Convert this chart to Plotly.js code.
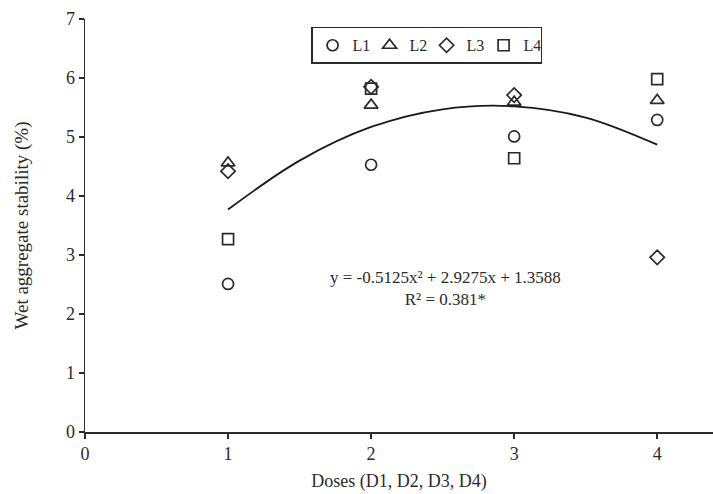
<!DOCTYPE html>
<html>
<head>
<meta charset="utf-8">
<script src="https://cdn.plot.ly/plotly-3.0.1.min.js"></script>
<style>html,body{margin:0;padding:0;background:#fff;}#chart{width:713px;height:494px;}</style>
</head>
<body>
<div id="chart"></div>
<script>
const doses = [1, 2, 3, 4];
const L1 = [2.51, 4.53, 5.01, 5.29];
const L2 = [4.56, 5.54, 5.59, 5.62];
const L3 = [4.42, 5.85, 5.71, 2.96];
const L4 = [3.27, 5.82, 4.64, 5.98];
const trendX = [1, 1.5, 2, 2.5, 3, 3.5, 4];
const trendY = [3.77, 4.60, 5.17, 5.47, 5.52, 5.33, 4.87];
const seriesNames = ['L1', 'L2', 'L3', 'L4'];
const symbols = ['circle-open', 'triangle-up-open', 'diamond-open', 'square-open'];
const equationText = 'y = -0.5125x² + 2.9275x + 1.3588';
const r2Text = 'R² = 0.381*';

const ink = '#2b2b2b';
const font = 'Liberation Serif, Times New Roman, serif';
const series = [L1, L2, L3, L4];
const sizes = [11, 12, 11, 11];
const traces = series.map((v, i) => ({
  x: doses, y: v, name: seriesNames[i], type: 'scatter', mode: 'markers',
  marker: {symbol: symbols[i], size: sizes[i], color: ink, line: {width: 1.7, color: ink}},
  cliponaxis: false
}));
traces.push({
  x: trendX, y: trendY, type: 'scatter', mode: 'lines', showlegend: false,
  line: {shape: 'spline', color: '#1a1a1a', width: 1.8}, hoverinfo: 'skip'
});

const layout = {
  width: 713, height: 494,
  margin: {l: 85, r: 0, t: 19, b: 62},
  paper_bgcolor: '#fff', plot_bgcolor: '#fff',
  font: {family: font, size: 18, color: ink},
  showlegend: true,
  legend: {
    orientation: 'h', x: 0.36, y: 0.981, xanchor: 'left', yanchor: 'top',
    bordercolor: ink, borderwidth: 1.5, bgcolor: '#fff',
    font: {family: font, size: 16, color: ink},
    itemwidth: 30, entrywidth: 12, tracegroupgap: 0
  },
  xaxis: {
    range: [0, 4.39], tickvals: [0, 1, 2, 3, 4], ticks: 'outside', ticklen: 5, tickwidth: 1.5,
    tickcolor: ink, showline: true, linecolor: ink, linewidth: 1.5, showgrid: false, zeroline: false,
    title: {text: 'Doses (D1, D2, D3, D4)', font: {family: font, size: 18, color: ink}, standoff: 11},
    tickfont: {family: font, size: 18, color: ink}
  },
  yaxis: {
    range: [0, 7], dtick: 1, ticks: 'outside', ticklen: 5, tickwidth: 1.5,
    tickcolor: ink, showline: true, linecolor: ink, linewidth: 1.5, showgrid: false, zeroline: false,
    title: {text: 'Wet aggregate stability (%)', font: {family: font, size: 19, color: ink}, standoff: 32},
    tickfont: {family: font, size: 18, color: ink}
  },
  annotations: [
    {x: 2.52, y: 2.44, xref: 'x', yref: 'y', text: equationText + '<br>' + r2Text, align: 'center',
     showarrow: false, font: {family: font, size: 17, color: ink}}
  ]
};
Plotly.newPlot('chart', traces, layout, {displayModeBar: false, staticPlot: true});
</script>
</body>
</html>
